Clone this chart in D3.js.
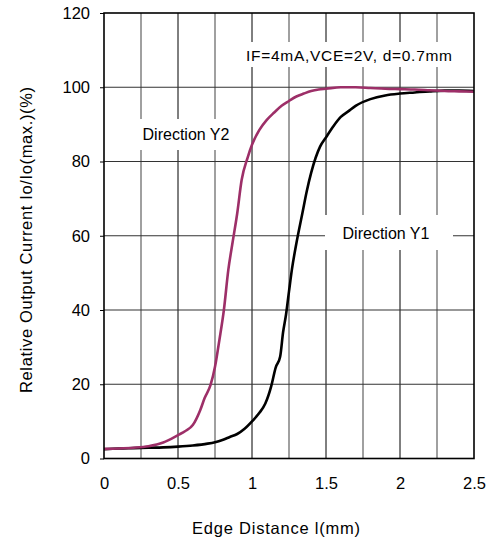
<!DOCTYPE html>
<html><head><meta charset="utf-8">
<script src="https://cdn.jsdelivr.net/npm/d3@7"></script>
<style>body{margin:0;background:#fff}svg{display:block}text{font-family:"Liberation Sans",Arial,sans-serif}</style>
</head><body>
<svg id="c" width="489" height="544"></svg>
<script>
const xTicks = [0, 0.5, 1, 1.5, 2, 2.5];
const xTickLabels = ["0", "0.5", "1", "1.5", "2", "2.5"];
const yTicks = [0, 20, 40, 60, 80, 100, 120];
const xMinorGrid = [0.25, 0.75, 1.25, 1.75, 2.25];

const y2X = [0,0.1,0.2,0.3,0.4,0.5,0.55,0.6,0.65,0.68,0.72,0.75,0.78,0.81,0.84,0.87,0.9,0.93,0.97,1.0,1.05,1.1,1.15,1.2,1.25,1.3,1.35,1.4,1.45,1.5,1.6,1.7,1.8,1.9,2.0,2.1,2.2,2.3,2.4,2.5];
const y2Y = [2.6,2.7,2.9,3.3,4.3,6.3,7.4,9.0,13.0,16.3,19.8,24.7,32,40,50.8,58.5,66,75,81,84.5,88.5,91.2,93.2,95,96.3,97.5,98.3,99,99.4,99.6,100,100,99.8,99.6,99.5,99.4,99.2,99,98.9,98.8];

const y1X = [0,0.1,0.2,0.3,0.4,0.5,0.6,0.7,0.75,0.8,0.85,0.9,0.95,1.0,1.05,1.09,1.13,1.16,1.19,1.21,1.23,1.25,1.27,1.3,1.34,1.37,1.4,1.43,1.46,1.5,1.55,1.6,1.65,1.7,1.8,1.9,2.0,2.1,2.2,2.3,2.4,2.5];
const y1Y = [2.5,2.7,2.8,2.9,3.0,3.2,3.5,4.0,4.4,5.0,5.8,6.6,8.0,10.0,12.3,14.8,19.5,24.5,27.4,34,38.8,45,51,58,66,72,77,81,84,86.5,89.5,92,93.5,95,96.8,97.8,98.3,98.6,98.9,99.1,99.1,99];

const svg = d3.select("#c");
const x = d3.scaleLinear().domain([0, 2.5]).range([104, 474]);
const y = d3.scaleLinear().domain([0, 120]).range([458.5, 13]);
const FONT = "Liberation Sans, Arial, sans-serif";

// grid
svg.append("g").selectAll("line").data(xMinorGrid).join("line")
  .attr("x1", d => x(d)).attr("x2", d => x(d)).attr("y1", y(0)).attr("y2", y(120))
  .attr("stroke", "#808080").attr("stroke-width", 1.5);
svg.append("g").selectAll("line").data(xTicks.slice(1, -1)).join("line")
  .attr("x1", d => x(d)).attr("x2", d => x(d)).attr("y1", y(0)).attr("y2", y(120))
  .attr("stroke", "#000").attr("stroke-width", 1);
svg.append("g").selectAll("line").data(yTicks.slice(1, -1)).join("line")
  .attr("x1", x(0)).attr("x2", x(2.5)).attr("y1", d => y(d)).attr("y2", d => y(d))
  .attr("stroke", "#333").attr("stroke-width", 1.2);

// label boxes (white backgrounds covering grid)
const boxes = [
  {x0: 243, y0: 42, x1: 457, y1: 67},
  {x0: 134, y0: 119, x1: 236, y1: 150},
  {x0: 325, y0: 215, x1: 453, y1: 250}
];
svg.append("g").selectAll("rect").data(boxes).join("rect")
  .attr("x", d => d.x0).attr("y", d => d.y0).attr("width", d => d.x1 - d.x0).attr("height", d => d.y1 - d.y0)
  .attr("fill", "#fff");

// curves
const line = d3.line().x(d => x(d[0])).y(d => y(d[1])).curve(d3.curveMonotoneX);
svg.append("path").datum(y1X.map((v, i) => [v, y1Y[i]])).attr("d", line)
  .attr("fill", "none").attr("stroke", "#000").attr("stroke-width", 2.6).attr("stroke-linejoin", "round");
svg.append("path").datum(y2X.map((v, i) => [v, y2Y[i]])).attr("d", line)
  .attr("fill", "none").attr("stroke", "#9d2f68").attr("stroke-width", 2.6).attr("stroke-linejoin", "round");

// frame
svg.append("rect").attr("x", x(0)).attr("y", y(120)).attr("width", x(2.5) - x(0)).attr("height", y(0) - y(120))
  .attr("fill", "none").attr("stroke", "#000").attr("stroke-width", 1.6);

// axes
const ya = svg.append("g").attr("transform", `translate(${x(0)},0)`)
  .call(d3.axisLeft(y).tickValues(yTicks).tickSize(4).tickPadding(10));
ya.select(".domain").remove();
ya.selectAll("text").attr("font-size", 16.5).attr("fill", "#000").style("font-family", FONT);
ya.selectAll("line").attr("stroke", "#000");

const xa = svg.append("g").attr("transform", `translate(0,${y(0)})`)
  .call(d3.axisBottom(x).tickValues(xTicks).tickFormat((d, i) => xTickLabels[i]).tickSize(0).tickPadding(19));
xa.select(".domain").remove();
xa.selectAll("text").attr("font-size", 16.5).attr("fill", "#000").style("font-family", FONT);

// annotations
svg.append("text").attr("x", 246).attr("y", 61).attr("font-size", 15.5)
  .attr("textLength", 206).attr("lengthAdjust", "spacing").text("IF=4mA,VCE=2V, d=0.7mm");
svg.append("text").attr("x", 186).attr("y", 140).attr("font-size", 16).attr("text-anchor", "middle").text("Direction Y2");
svg.append("text").attr("x", 386).attr("y", 239).attr("font-size", 16).attr("text-anchor", "middle").text("Direction Y1");

// titles
svg.append("text").attr("x", 276).attr("y", 534).attr("font-size", 16.5).attr("text-anchor", "middle")
  .attr("textLength", 168).attr("lengthAdjust", "spacing").text("Edge Distance l(mm)");
svg.append("text").attr("transform", "translate(32,240) rotate(-90)").attr("font-size", 16.5).attr("text-anchor", "middle")
  .attr("textLength", 306).attr("lengthAdjust", "spacing").text("Relative Output Current Io/Io(max.)(%)");
</script>
</body></html>
